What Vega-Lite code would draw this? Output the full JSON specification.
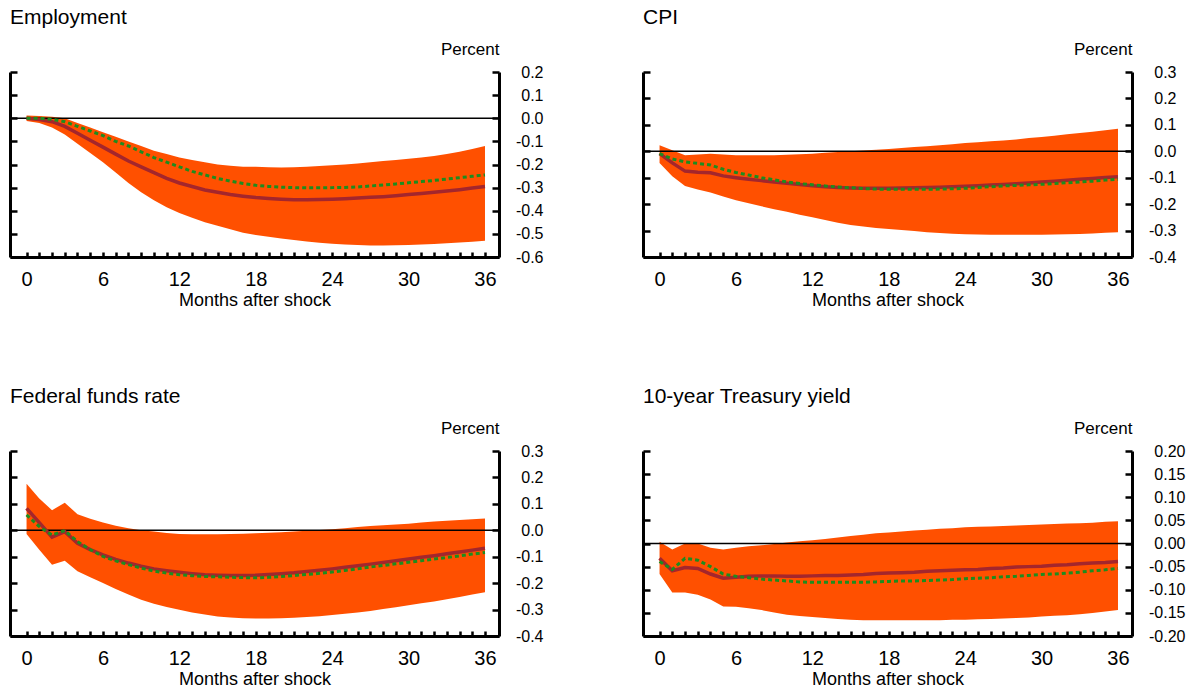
{
"$schema": "https://vega.github.io/schema/vega-lite/v6.json",
"padding": {"left": 8, "top": 7, "right": 5, "bottom": 5},
"background": "white",
"datasets": {
"irf": [
{"panel":"emp","month":0,"upper":0.012,"lower":-0.012,"estimate":0.0,"alternative":0.0},
{"panel":"emp","month":1,"upper":0.01,"lower":-0.02,"estimate":-0.005,"alternative":0.0},
{"panel":"emp","month":2,"upper":0.007,"lower":-0.04,"estimate":-0.015,"alternative":-0.005},
{"panel":"emp","month":3,"upper":0.0,"lower":-0.07,"estimate":-0.035,"alternative":-0.015},
{"panel":"emp","month":4,"upper":-0.02,"lower":-0.11,"estimate":-0.065,"alternative":-0.035},
{"panel":"emp","month":5,"upper":-0.04,"lower":-0.15,"estimate":-0.095,"alternative":-0.055},
{"panel":"emp","month":6,"upper":-0.06,"lower":-0.19,"estimate":-0.125,"alternative":-0.075},
{"panel":"emp","month":7,"upper":-0.08,"lower":-0.235,"estimate":-0.155,"alternative":-0.1},
{"panel":"emp","month":8,"upper":-0.1,"lower":-0.28,"estimate":-0.185,"alternative":-0.12},
{"panel":"emp","month":9,"upper":-0.12,"lower":-0.32,"estimate":-0.21,"alternative":-0.145},
{"panel":"emp","month":10,"upper":-0.14,"lower":-0.355,"estimate":-0.235,"alternative":-0.17},
{"panel":"emp","month":11,"upper":-0.155,"lower":-0.385,"estimate":-0.26,"alternative":-0.19},
{"panel":"emp","month":12,"upper":-0.17,"lower":-0.41,"estimate":-0.28,"alternative":-0.21},
{"panel":"emp","month":13,"upper":-0.18,"lower":-0.43,"estimate":-0.295,"alternative":-0.23},
{"panel":"emp","month":14,"upper":-0.19,"lower":-0.45,"estimate":-0.31,"alternative":-0.245},
{"panel":"emp","month":15,"upper":-0.2,"lower":-0.465,"estimate":-0.32,"alternative":-0.26},
{"panel":"emp","month":16,"upper":-0.205,"lower":-0.48,"estimate":-0.33,"alternative":-0.272},
{"panel":"emp","month":17,"upper":-0.21,"lower":-0.495,"estimate":-0.337,"alternative":-0.282},
{"panel":"emp","month":18,"upper":-0.21,"lower":-0.505,"estimate":-0.343,"alternative":-0.29},
{"panel":"emp","month":19,"upper":-0.212,"lower":-0.512,"estimate":-0.347,"alternative":-0.295},
{"panel":"emp","month":20,"upper":-0.213,"lower":-0.52,"estimate":-0.35,"alternative":-0.298},
{"panel":"emp","month":21,"upper":-0.212,"lower":-0.527,"estimate":-0.352,"alternative":-0.3},
{"panel":"emp","month":22,"upper":-0.21,"lower":-0.533,"estimate":-0.352,"alternative":-0.301},
{"panel":"emp","month":23,"upper":-0.207,"lower":-0.538,"estimate":-0.351,"alternative":-0.301},
{"panel":"emp","month":24,"upper":-0.203,"lower":-0.543,"estimate":-0.35,"alternative":-0.3},
{"panel":"emp","month":25,"upper":-0.2,"lower":-0.546,"estimate":-0.348,"alternative":-0.299},
{"panel":"emp","month":26,"upper":-0.196,"lower":-0.548,"estimate":-0.345,"alternative":-0.297},
{"panel":"emp","month":27,"upper":-0.19,"lower":-0.55,"estimate":-0.342,"alternative":-0.293},
{"panel":"emp","month":28,"upper":-0.185,"lower":-0.55,"estimate":-0.339,"alternative":-0.289},
{"panel":"emp","month":29,"upper":-0.18,"lower":-0.549,"estimate":-0.335,"alternative":-0.284},
{"panel":"emp","month":30,"upper":-0.175,"lower":-0.548,"estimate":-0.33,"alternative":-0.279},
{"panel":"emp","month":31,"upper":-0.17,"lower":-0.546,"estimate":-0.325,"alternative":-0.274},
{"panel":"emp","month":32,"upper":-0.163,"lower":-0.544,"estimate":-0.32,"alternative":-0.269},
{"panel":"emp","month":33,"upper":-0.155,"lower":-0.54,"estimate":-0.315,"alternative":-0.263},
{"panel":"emp","month":34,"upper":-0.145,"lower":-0.537,"estimate":-0.309,"alternative":-0.257},
{"panel":"emp","month":35,"upper":-0.133,"lower":-0.534,"estimate":-0.302,"alternative":-0.251},
{"panel":"emp","month":36,"upper":-0.12,"lower":-0.53,"estimate":-0.295,"alternative":-0.245},
{"panel":"cpi","month":0,"upper":0.023,"lower":-0.044,"estimate":-0.009,"alternative":-0.009},
{"panel":"cpi","month":1,"upper":0.004,"lower":-0.094,"estimate":-0.044,"alternative":-0.029},
{"panel":"cpi","month":2,"upper":-0.015,"lower":-0.131,"estimate":-0.075,"alternative":-0.04},
{"panel":"cpi","month":3,"upper":-0.012,"lower":-0.145,"estimate":-0.079,"alternative":-0.046},
{"panel":"cpi","month":4,"upper":-0.009,"lower":-0.156,"estimate":-0.081,"alternative":-0.052},
{"panel":"cpi","month":5,"upper":-0.012,"lower":-0.171,"estimate":-0.093,"alternative":-0.068},
{"panel":"cpi","month":6,"upper":-0.015,"lower":-0.185,"estimate":-0.1,"alternative":-0.08},
{"panel":"cpi","month":7,"upper":-0.015,"lower":-0.197,"estimate":-0.106,"alternative":-0.09},
{"panel":"cpi","month":8,"upper":-0.015,"lower":-0.208,"estimate":-0.111,"alternative":-0.1},
{"panel":"cpi","month":9,"upper":-0.015,"lower":-0.219,"estimate":-0.116,"alternative":-0.108},
{"panel":"cpi","month":10,"upper":-0.013,"lower":-0.229,"estimate":-0.121,"alternative":-0.116},
{"panel":"cpi","month":11,"upper":-0.011,"lower":-0.24,"estimate":-0.126,"alternative":-0.122},
{"panel":"cpi","month":12,"upper":-0.009,"lower":-0.25,"estimate":-0.13,"alternative":-0.127},
{"panel":"cpi","month":13,"upper":-0.006,"lower":-0.26,"estimate":-0.134,"alternative":-0.131},
{"panel":"cpi","month":14,"upper":-0.003,"lower":-0.27,"estimate":-0.137,"alternative":-0.135},
{"panel":"cpi","month":15,"upper":0.0,"lower":-0.279,"estimate":-0.139,"alternative":-0.138},
{"panel":"cpi","month":16,"upper":0.003,"lower":-0.285,"estimate":-0.14,"alternative":-0.141},
{"panel":"cpi","month":17,"upper":0.006,"lower":-0.29,"estimate":-0.14,"alternative":-0.143},
{"panel":"cpi","month":18,"upper":0.009,"lower":-0.294,"estimate":-0.14,"alternative":-0.144},
{"panel":"cpi","month":19,"upper":0.012,"lower":-0.298,"estimate":-0.139,"alternative":-0.144},
{"panel":"cpi","month":20,"upper":0.016,"lower":-0.302,"estimate":-0.138,"alternative":-0.144},
{"panel":"cpi","month":21,"upper":0.019,"lower":-0.306,"estimate":-0.137,"alternative":-0.144},
{"panel":"cpi","month":22,"upper":0.023,"lower":-0.309,"estimate":-0.136,"alternative":-0.143},
{"panel":"cpi","month":23,"upper":0.027,"lower":-0.312,"estimate":-0.134,"alternative":-0.142},
{"panel":"cpi","month":24,"upper":0.031,"lower":-0.314,"estimate":-0.132,"alternative":-0.14},
{"panel":"cpi","month":25,"upper":0.034,"lower":-0.315,"estimate":-0.13,"alternative":-0.137},
{"panel":"cpi","month":26,"upper":0.038,"lower":-0.316,"estimate":-0.128,"alternative":-0.134},
{"panel":"cpi","month":27,"upper":0.041,"lower":-0.316,"estimate":-0.126,"alternative":-0.131},
{"panel":"cpi","month":28,"upper":0.045,"lower":-0.316,"estimate":-0.123,"alternative":-0.129},
{"panel":"cpi","month":29,"upper":0.05,"lower":-0.316,"estimate":-0.12,"alternative":-0.127},
{"panel":"cpi","month":30,"upper":0.054,"lower":-0.316,"estimate":-0.116,"alternative":-0.125},
{"panel":"cpi","month":31,"upper":0.059,"lower":-0.315,"estimate":-0.113,"alternative":-0.122},
{"panel":"cpi","month":32,"upper":0.064,"lower":-0.314,"estimate":-0.11,"alternative":-0.119},
{"panel":"cpi","month":33,"upper":0.069,"lower":-0.313,"estimate":-0.106,"alternative":-0.116},
{"panel":"cpi","month":34,"upper":0.074,"lower":-0.311,"estimate":-0.103,"alternative":-0.113},
{"panel":"cpi","month":35,"upper":0.08,"lower":-0.308,"estimate":-0.099,"alternative":-0.109},
{"panel":"cpi","month":36,"upper":0.085,"lower":-0.306,"estimate":-0.096,"alternative":-0.106},
{"panel":"ffr","month":0,"upper":0.176,"lower":-0.014,"estimate":0.083,"alternative":0.058},
{"panel":"ffr","month":1,"upper":0.12,"lower":-0.074,"estimate":0.029,"alternative":0.014},
{"panel":"ffr","month":2,"upper":0.076,"lower":-0.13,"estimate":-0.026,"alternative":-0.018},
{"panel":"ffr","month":3,"upper":0.104,"lower":-0.115,"estimate":-0.005,"alternative":-0.001},
{"panel":"ffr","month":4,"upper":0.061,"lower":-0.155,"estimate":-0.049,"alternative":-0.043},
{"panel":"ffr","month":5,"upper":0.044,"lower":-0.178,"estimate":-0.073,"alternative":-0.073},
{"panel":"ffr","month":6,"upper":0.029,"lower":-0.199,"estimate":-0.093,"alternative":-0.099},
{"panel":"ffr","month":7,"upper":0.017,"lower":-0.222,"estimate":-0.11,"alternative":-0.116},
{"panel":"ffr","month":8,"upper":0.008,"lower":-0.243,"estimate":-0.124,"alternative":-0.13},
{"panel":"ffr","month":9,"upper":0.0,"lower":-0.263,"estimate":-0.136,"alternative":-0.143},
{"panel":"ffr","month":10,"upper":-0.005,"lower":-0.278,"estimate":-0.146,"alternative":-0.154},
{"panel":"ffr","month":11,"upper":-0.01,"lower":-0.29,"estimate":-0.153,"alternative":-0.162},
{"panel":"ffr","month":12,"upper":-0.014,"lower":-0.301,"estimate":-0.159,"alternative":-0.168},
{"panel":"ffr","month":13,"upper":-0.015,"lower":-0.311,"estimate":-0.164,"alternative":-0.172},
{"panel":"ffr","month":14,"upper":-0.015,"lower":-0.319,"estimate":-0.168,"alternative":-0.175},
{"panel":"ffr","month":15,"upper":-0.015,"lower":-0.326,"estimate":-0.17,"alternative":-0.176},
{"panel":"ffr","month":16,"upper":-0.014,"lower":-0.33,"estimate":-0.171,"alternative":-0.178},
{"panel":"ffr","month":17,"upper":-0.013,"lower":-0.333,"estimate":-0.171,"alternative":-0.179},
{"panel":"ffr","month":18,"upper":-0.011,"lower":-0.334,"estimate":-0.17,"alternative":-0.18},
{"panel":"ffr","month":19,"upper":-0.009,"lower":-0.334,"estimate":-0.167,"alternative":-0.178},
{"panel":"ffr","month":20,"upper":-0.007,"lower":-0.333,"estimate":-0.164,"alternative":-0.175},
{"panel":"ffr","month":21,"upper":-0.005,"lower":-0.331,"estimate":-0.161,"alternative":-0.171},
{"panel":"ffr","month":22,"upper":-0.002,"lower":-0.328,"estimate":-0.156,"alternative":-0.167},
{"panel":"ffr","month":23,"upper":0.001,"lower":-0.325,"estimate":-0.151,"alternative":-0.163},
{"panel":"ffr","month":24,"upper":0.004,"lower":-0.321,"estimate":-0.146,"alternative":-0.158},
{"panel":"ffr","month":25,"upper":0.008,"lower":-0.316,"estimate":-0.14,"alternative":-0.152},
{"panel":"ffr","month":26,"upper":0.012,"lower":-0.311,"estimate":-0.134,"alternative":-0.146},
{"panel":"ffr","month":27,"upper":0.016,"lower":-0.305,"estimate":-0.128,"alternative":-0.139},
{"panel":"ffr","month":28,"upper":0.019,"lower":-0.298,"estimate":-0.122,"alternative":-0.133},
{"panel":"ffr","month":29,"upper":0.022,"lower":-0.291,"estimate":-0.115,"alternative":-0.127},
{"panel":"ffr","month":30,"upper":0.025,"lower":-0.284,"estimate":-0.109,"alternative":-0.121},
{"panel":"ffr","month":31,"upper":0.029,"lower":-0.276,"estimate":-0.102,"alternative":-0.115},
{"panel":"ffr","month":32,"upper":0.033,"lower":-0.269,"estimate":-0.096,"alternative":-0.109},
{"panel":"ffr","month":33,"upper":0.036,"lower":-0.261,"estimate":-0.089,"alternative":-0.103},
{"panel":"ffr","month":34,"upper":0.039,"lower":-0.252,"estimate":-0.082,"alternative":-0.097},
{"panel":"ffr","month":35,"upper":0.042,"lower":-0.243,"estimate":-0.075,"alternative":-0.09},
{"panel":"ffr","month":36,"upper":0.045,"lower":-0.234,"estimate":-0.068,"alternative":-0.084},
{"panel":"t10","month":0,"upper":0.004,"lower":-0.066,"estimate":-0.032,"alternative":-0.039},
{"panel":"t10","month":1,"upper":-0.013,"lower":-0.106,"estimate":-0.059,"alternative":-0.056},
{"panel":"t10","month":2,"upper":0.0,"lower":-0.106,"estimate":-0.052,"alternative":-0.032},
{"panel":"t10","month":3,"upper":0.0,"lower":-0.111,"estimate":-0.054,"alternative":-0.036},
{"panel":"t10","month":4,"upper":-0.009,"lower":-0.121,"estimate":-0.066,"alternative":-0.05},
{"panel":"t10","month":5,"upper":-0.013,"lower":-0.136,"estimate":-0.075,"alternative":-0.066},
{"panel":"t10","month":6,"upper":-0.009,"lower":-0.137,"estimate":-0.073,"alternative":-0.071},
{"panel":"t10","month":7,"upper":-0.006,"lower":-0.14,"estimate":-0.071,"alternative":-0.074},
{"panel":"t10","month":8,"upper":-0.004,"lower":-0.144,"estimate":-0.07,"alternative":-0.077},
{"panel":"t10","month":9,"upper":-0.001,"lower":-0.149,"estimate":-0.07,"alternative":-0.079},
{"panel":"t10","month":10,"upper":0.002,"lower":-0.154,"estimate":-0.071,"alternative":-0.081},
{"panel":"t10","month":11,"upper":0.005,"lower":-0.157,"estimate":-0.071,"alternative":-0.083},
{"panel":"t10","month":12,"upper":0.007,"lower":-0.159,"estimate":-0.07,"alternative":-0.084},
{"panel":"t10","month":13,"upper":0.01,"lower":-0.161,"estimate":-0.069,"alternative":-0.084},
{"panel":"t10","month":14,"upper":0.013,"lower":-0.163,"estimate":-0.069,"alternative":-0.084},
{"panel":"t10","month":15,"upper":0.016,"lower":-0.165,"estimate":-0.068,"alternative":-0.084},
{"panel":"t10","month":16,"upper":0.019,"lower":-0.166,"estimate":-0.067,"alternative":-0.084},
{"panel":"t10","month":17,"upper":0.022,"lower":-0.166,"estimate":-0.065,"alternative":-0.083},
{"panel":"t10","month":18,"upper":0.024,"lower":-0.166,"estimate":-0.064,"alternative":-0.082},
{"panel":"t10","month":19,"upper":0.026,"lower":-0.166,"estimate":-0.063,"alternative":-0.081},
{"panel":"t10","month":20,"upper":0.028,"lower":-0.166,"estimate":-0.062,"alternative":-0.081},
{"panel":"t10","month":21,"upper":0.03,"lower":-0.166,"estimate":-0.06,"alternative":-0.08},
{"panel":"t10","month":22,"upper":0.032,"lower":-0.166,"estimate":-0.059,"alternative":-0.079},
{"panel":"t10","month":23,"upper":0.033,"lower":-0.165,"estimate":-0.058,"alternative":-0.078},
{"panel":"t10","month":24,"upper":0.035,"lower":-0.165,"estimate":-0.057,"alternative":-0.076},
{"panel":"t10","month":25,"upper":0.036,"lower":-0.164,"estimate":-0.056,"alternative":-0.075},
{"panel":"t10","month":26,"upper":0.037,"lower":-0.163,"estimate":-0.054,"alternative":-0.074},
{"panel":"t10","month":27,"upper":0.038,"lower":-0.162,"estimate":-0.053,"alternative":-0.072},
{"panel":"t10","month":28,"upper":0.039,"lower":-0.161,"estimate":-0.051,"alternative":-0.071},
{"panel":"t10","month":29,"upper":0.04,"lower":-0.16,"estimate":-0.05,"alternative":-0.069},
{"panel":"t10","month":30,"upper":0.041,"lower":-0.158,"estimate":-0.049,"alternative":-0.067},
{"panel":"t10","month":31,"upper":0.042,"lower":-0.156,"estimate":-0.047,"alternative":-0.066},
{"panel":"t10","month":32,"upper":0.043,"lower":-0.155,"estimate":-0.046,"alternative":-0.064},
{"panel":"t10","month":33,"upper":0.044,"lower":-0.153,"estimate":-0.044,"alternative":-0.062},
{"panel":"t10","month":34,"upper":0.045,"lower":-0.15,"estimate":-0.042,"alternative":-0.059},
{"panel":"t10","month":35,"upper":0.047,"lower":-0.147,"estimate":-0.041,"alternative":-0.057},
{"panel":"t10","month":36,"upper":0.048,"lower":-0.144,"estimate":-0.039,"alternative":-0.054}
]
},
"data": {"name": "irf"},
"columns": 2,
"spacing": {"row": 194, "column": 144},
"bounds": "flush",
"concat": [
{
"width": 489, "height": 185,
"title": "Employment",
"transform": [{"filter": "datum.panel === 'emp'"}],
"resolve": {"axis": {"y": "independent"}},
"layer": [
{"mark": {"type": "area", "color": "#FF5000"},
 "encoding": {
  "x": {"field": "month", "type": "quantitative", "scale": {"domain": [-1.3, 37.1], "nice": false, "zero": false}, "axis": {"values": [0,1,2,3,4,5,6,7,8,9,10,11,12,13,14,15,16,17,18,19,20,21,22,23,24,25,26,27,28,29,30,31,32,33,34,35,36], "labelExpr": "datum.value % 6 === 0 ? datum.label : ''", "tickSize": -5, "labelPadding": 17, "labelFontSize": 20, "title": "Months after shock", "titleFontSize": 18, "titlePadding": 2}},
  "y": {"field": "lower", "type": "quantitative", "scale": {"domain": [-0.6, 0.2], "nice": false, "zero": false},
        "axis": {"values": [-0.6,-0.5,-0.4,-0.3,-0.2,-0.1,0,0.1,0.2], "labels": false, "tickSize": -7, "title": null}},
  "y2": {"field": "upper"}}},
{"data": {"values": [{"zero": 0}]},
 "mark": {"type": "rule", "color": "black", "strokeWidth": 1.5},
 "encoding": {"y": {"field": "zero", "type": "quantitative", "axis": null}}},
{"mark": {"type": "line", "color": "#A4262C", "strokeWidth": 3.5},
 "encoding": {
  "x": {"field": "month", "type": "quantitative", "scale": {"domain": [-1.3, 37.1], "nice": false, "zero": false}, "axis": {"values": [0,1,2,3,4,5,6,7,8,9,10,11,12,13,14,15,16,17,18,19,20,21,22,23,24,25,26,27,28,29,30,31,32,33,34,35,36], "labelExpr": "datum.value % 6 === 0 ? datum.label : ''", "tickSize": -5, "labelPadding": 17, "labelFontSize": 20, "title": "Months after shock", "titleFontSize": 18, "titlePadding": 2}},
  "y": {"field": "estimate", "type": "quantitative",
        "axis": {"orient": "right", "values": [-0.6,-0.5,-0.4,-0.3,-0.2,-0.1,0,0.1,0.2], "labelExpr": "(datum.value < 0 ? '-' : '') + format(abs(datum.value), '.1f')", "tickSize": -7, "labelAlign": "right", "labelBaseline": "middle", "labelPadding": 51, "labelFontSize": 16, "title": "Percent", "titleFontSize": 17, "titleAngle": 0, "titleAlign": "right", "titleBaseline": "alphabetic", "titleX": 0, "titleY": -18}}}},
{"mark": {"type": "line", "color": "#1E8C1E", "strokeWidth": 3, "strokeDash": [4, 3]},
 "encoding": {
  "x": {"field": "month", "type": "quantitative", "scale": {"domain": [-1.3, 37.1], "nice": false, "zero": false}, "axis": {"values": [0,1,2,3,4,5,6,7,8,9,10,11,12,13,14,15,16,17,18,19,20,21,22,23,24,25,26,27,28,29,30,31,32,33,34,35,36], "labelExpr": "datum.value % 6 === 0 ? datum.label : ''", "tickSize": -5, "labelPadding": 17, "labelFontSize": 20, "title": "Months after shock", "titleFontSize": 18, "titlePadding": 2}},
  "y": {"field": "alternative", "type": "quantitative", "axis": null}}}
]
},
{
"width": 489, "height": 185,
"title": "CPI",
"transform": [{"filter": "datum.panel === 'cpi'"}],
"resolve": {"axis": {"y": "independent"}},
"layer": [
{"mark": {"type": "area", "color": "#FF5000"},
 "encoding": {
  "x": {"field": "month", "type": "quantitative", "scale": {"domain": [-1.3, 37.1], "nice": false, "zero": false}, "axis": {"values": [0,1,2,3,4,5,6,7,8,9,10,11,12,13,14,15,16,17,18,19,20,21,22,23,24,25,26,27,28,29,30,31,32,33,34,35,36], "labelExpr": "datum.value % 6 === 0 ? datum.label : ''", "tickSize": -5, "labelPadding": 17, "labelFontSize": 20, "title": "Months after shock", "titleFontSize": 18, "titlePadding": 2}},
  "y": {"field": "lower", "type": "quantitative", "scale": {"domain": [-0.4, 0.3], "nice": false, "zero": false},
        "axis": {"values": [-0.4,-0.3,-0.2,-0.1,0,0.1,0.2,0.3], "labels": false, "tickSize": -7, "title": null}},
  "y2": {"field": "upper"}}},
{"data": {"values": [{"zero": 0}]},
 "mark": {"type": "rule", "color": "black", "strokeWidth": 1.5},
 "encoding": {"y": {"field": "zero", "type": "quantitative", "axis": null}}},
{"mark": {"type": "line", "color": "#A4262C", "strokeWidth": 3.5},
 "encoding": {
  "x": {"field": "month", "type": "quantitative", "scale": {"domain": [-1.3, 37.1], "nice": false, "zero": false}, "axis": {"values": [0,1,2,3,4,5,6,7,8,9,10,11,12,13,14,15,16,17,18,19,20,21,22,23,24,25,26,27,28,29,30,31,32,33,34,35,36], "labelExpr": "datum.value % 6 === 0 ? datum.label : ''", "tickSize": -5, "labelPadding": 17, "labelFontSize": 20, "title": "Months after shock", "titleFontSize": 18, "titlePadding": 2}},
  "y": {"field": "estimate", "type": "quantitative",
        "axis": {"orient": "right", "values": [-0.4,-0.3,-0.2,-0.1,0,0.1,0.2,0.3], "labelExpr": "(datum.value < 0 ? '-' : '') + format(abs(datum.value), '.1f')", "tickSize": -7, "labelAlign": "right", "labelBaseline": "middle", "labelPadding": 51, "labelFontSize": 16, "title": "Percent", "titleFontSize": 17, "titleAngle": 0, "titleAlign": "right", "titleBaseline": "alphabetic", "titleX": 0, "titleY": -18}}}},
{"mark": {"type": "line", "color": "#1E8C1E", "strokeWidth": 3, "strokeDash": [4, 3]},
 "encoding": {
  "x": {"field": "month", "type": "quantitative", "scale": {"domain": [-1.3, 37.1], "nice": false, "zero": false}, "axis": {"values": [0,1,2,3,4,5,6,7,8,9,10,11,12,13,14,15,16,17,18,19,20,21,22,23,24,25,26,27,28,29,30,31,32,33,34,35,36], "labelExpr": "datum.value % 6 === 0 ? datum.label : ''", "tickSize": -5, "labelPadding": 17, "labelFontSize": 20, "title": "Months after shock", "titleFontSize": 18, "titlePadding": 2}},
  "y": {"field": "alternative", "type": "quantitative", "axis": null}}}
]
},
{
"width": 489, "height": 185,
"title": "Federal funds rate",
"transform": [{"filter": "datum.panel === 'ffr'"}],
"resolve": {"axis": {"y": "independent"}},
"layer": [
{"mark": {"type": "area", "color": "#FF5000"},
 "encoding": {
  "x": {"field": "month", "type": "quantitative", "scale": {"domain": [-1.3, 37.1], "nice": false, "zero": false}, "axis": {"values": [0,1,2,3,4,5,6,7,8,9,10,11,12,13,14,15,16,17,18,19,20,21,22,23,24,25,26,27,28,29,30,31,32,33,34,35,36], "labelExpr": "datum.value % 6 === 0 ? datum.label : ''", "tickSize": -5, "labelPadding": 17, "labelFontSize": 20, "title": "Months after shock", "titleFontSize": 18, "titlePadding": 2}},
  "y": {"field": "lower", "type": "quantitative", "scale": {"domain": [-0.4, 0.3], "nice": false, "zero": false},
        "axis": {"values": [-0.4,-0.3,-0.2,-0.1,0,0.1,0.2,0.3], "labels": false, "tickSize": -7, "title": null}},
  "y2": {"field": "upper"}}},
{"data": {"values": [{"zero": 0}]},
 "mark": {"type": "rule", "color": "black", "strokeWidth": 1.5},
 "encoding": {"y": {"field": "zero", "type": "quantitative", "axis": null}}},
{"mark": {"type": "line", "color": "#A4262C", "strokeWidth": 3.5},
 "encoding": {
  "x": {"field": "month", "type": "quantitative", "scale": {"domain": [-1.3, 37.1], "nice": false, "zero": false}, "axis": {"values": [0,1,2,3,4,5,6,7,8,9,10,11,12,13,14,15,16,17,18,19,20,21,22,23,24,25,26,27,28,29,30,31,32,33,34,35,36], "labelExpr": "datum.value % 6 === 0 ? datum.label : ''", "tickSize": -5, "labelPadding": 17, "labelFontSize": 20, "title": "Months after shock", "titleFontSize": 18, "titlePadding": 2}},
  "y": {"field": "estimate", "type": "quantitative",
        "axis": {"orient": "right", "values": [-0.4,-0.3,-0.2,-0.1,0,0.1,0.2,0.3], "labelExpr": "(datum.value < 0 ? '-' : '') + format(abs(datum.value), '.1f')", "tickSize": -7, "labelAlign": "right", "labelBaseline": "middle", "labelPadding": 51, "labelFontSize": 16, "title": "Percent", "titleFontSize": 17, "titleAngle": 0, "titleAlign": "right", "titleBaseline": "alphabetic", "titleX": 0, "titleY": -18}}}},
{"mark": {"type": "line", "color": "#1E8C1E", "strokeWidth": 3, "strokeDash": [4, 3]},
 "encoding": {
  "x": {"field": "month", "type": "quantitative", "scale": {"domain": [-1.3, 37.1], "nice": false, "zero": false}, "axis": {"values": [0,1,2,3,4,5,6,7,8,9,10,11,12,13,14,15,16,17,18,19,20,21,22,23,24,25,26,27,28,29,30,31,32,33,34,35,36], "labelExpr": "datum.value % 6 === 0 ? datum.label : ''", "tickSize": -5, "labelPadding": 17, "labelFontSize": 20, "title": "Months after shock", "titleFontSize": 18, "titlePadding": 2}},
  "y": {"field": "alternative", "type": "quantitative", "axis": null}}}
]
},
{
"width": 489, "height": 185,
"title": "10-year Treasury yield",
"transform": [{"filter": "datum.panel === 't10'"}],
"resolve": {"axis": {"y": "independent"}},
"layer": [
{"mark": {"type": "area", "color": "#FF5000"},
 "encoding": {
  "x": {"field": "month", "type": "quantitative", "scale": {"domain": [-1.3, 37.1], "nice": false, "zero": false}, "axis": {"values": [0,1,2,3,4,5,6,7,8,9,10,11,12,13,14,15,16,17,18,19,20,21,22,23,24,25,26,27,28,29,30,31,32,33,34,35,36], "labelExpr": "datum.value % 6 === 0 ? datum.label : ''", "tickSize": -5, "labelPadding": 17, "labelFontSize": 20, "title": "Months after shock", "titleFontSize": 18, "titlePadding": 2}},
  "y": {"field": "lower", "type": "quantitative", "scale": {"domain": [-0.2, 0.2], "nice": false, "zero": false},
        "axis": {"values": [-0.2,-0.15,-0.1,-0.05,0,0.05,0.1,0.15,0.2], "labels": false, "tickSize": -7, "title": null}},
  "y2": {"field": "upper"}}},
{"data": {"values": [{"zero": 0}]},
 "mark": {"type": "rule", "color": "black", "strokeWidth": 1.5},
 "encoding": {"y": {"field": "zero", "type": "quantitative", "axis": null}}},
{"mark": {"type": "line", "color": "#A4262C", "strokeWidth": 3.5},
 "encoding": {
  "x": {"field": "month", "type": "quantitative", "scale": {"domain": [-1.3, 37.1], "nice": false, "zero": false}, "axis": {"values": [0,1,2,3,4,5,6,7,8,9,10,11,12,13,14,15,16,17,18,19,20,21,22,23,24,25,26,27,28,29,30,31,32,33,34,35,36], "labelExpr": "datum.value % 6 === 0 ? datum.label : ''", "tickSize": -5, "labelPadding": 17, "labelFontSize": 20, "title": "Months after shock", "titleFontSize": 18, "titlePadding": 2}},
  "y": {"field": "estimate", "type": "quantitative",
        "axis": {"orient": "right", "values": [-0.2,-0.15,-0.1,-0.05,0,0.05,0.1,0.15,0.2], "labelExpr": "(datum.value < 0 ? '-' : '') + format(abs(datum.value), '.2f')", "tickSize": -7, "labelAlign": "right", "labelBaseline": "middle", "labelPadding": 60, "labelFontSize": 16, "title": "Percent", "titleFontSize": 17, "titleAngle": 0, "titleAlign": "right", "titleBaseline": "alphabetic", "titleX": 0, "titleY": -18}}}},
{"mark": {"type": "line", "color": "#1E8C1E", "strokeWidth": 3, "strokeDash": [4, 3]},
 "encoding": {
  "x": {"field": "month", "type": "quantitative", "scale": {"domain": [-1.3, 37.1], "nice": false, "zero": false}, "axis": {"values": [0,1,2,3,4,5,6,7,8,9,10,11,12,13,14,15,16,17,18,19,20,21,22,23,24,25,26,27,28,29,30,31,32,33,34,35,36], "labelExpr": "datum.value % 6 === 0 ? datum.label : ''", "tickSize": -5, "labelPadding": 17, "labelFontSize": 20, "title": "Months after shock", "titleFontSize": 18, "titlePadding": 2}},
  "y": {"field": "alternative", "type": "quantitative", "axis": null}}}
]
}
],
"config": {
 "font": "Liberation Sans",
 "view": {"stroke": null},
 "axis": {"domainColor": "black", "domainWidth": 3, "tickColor": "black", "tickWidth": 2.5, "labelColor": "black", "titleColor": "black", "grid": false, "labelFont": "Liberation Sans", "titleFont": "Liberation Sans", "titleFontWeight": "normal", "labelOverlap": false, "labelBound": false, "labelFlush": false},
 "title": {"font": "Liberation Sans", "fontWeight": "normal", "fontSize": 21, "color": "black", "anchor": "start", "frame": "group", "baseline": "alphabetic", "offset": 12}
}
}
